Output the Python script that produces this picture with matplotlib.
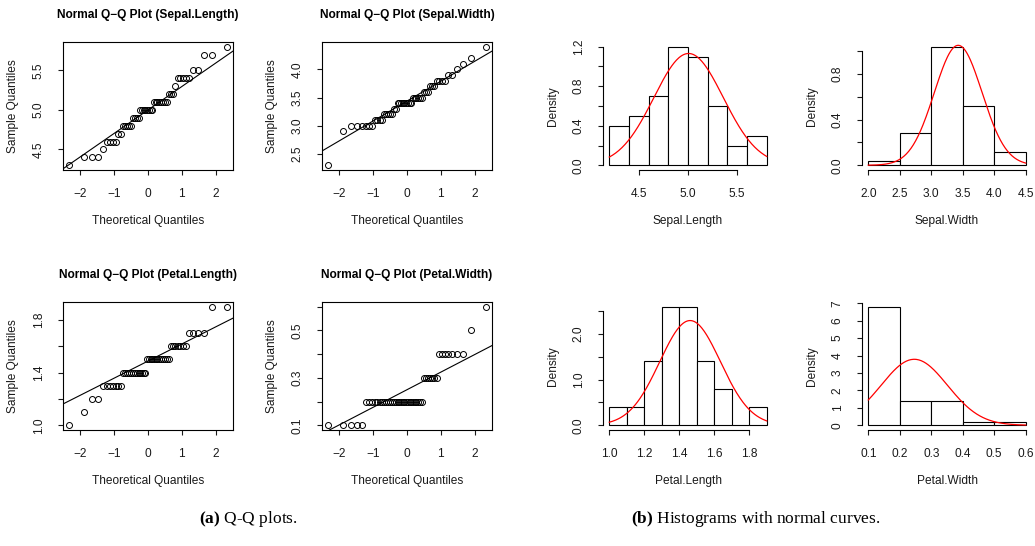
import numpy as np
import matplotlib
matplotlib.use('Agg')
import matplotlib.pyplot as plt
from statistics import NormalDist

# ------------------------------------------------------
# Data: iris setosa measurements (50 flowers)
sepal_length = [5.1, 4.9, 4.7, 4.6, 5.0, 5.4, 4.6, 5.0, 4.4, 4.9, 5.4, 4.8, 4.8, 4.3, 5.8, 5.7, 5.4,
                5.1, 5.7, 5.1, 5.4, 5.1, 4.6, 5.1, 4.8, 5.0, 5.0, 5.2, 5.2, 4.7, 4.8, 5.4, 5.2, 5.5,
                4.9, 5.0, 5.5, 4.9, 4.4, 5.1, 5.0, 4.5, 4.4, 5.0, 5.1, 4.8, 5.1, 4.6, 5.3, 5.0]
sepal_width = [3.5, 3.0, 3.2, 3.1, 3.6, 3.9, 3.4, 3.4, 2.9, 3.1, 3.7, 3.4, 3.0, 3.0, 4.0, 4.4, 3.9,
               3.5, 3.8, 3.8, 3.4, 3.7, 3.6, 3.3, 3.4, 3.0, 3.4, 3.5, 3.4, 3.2, 3.1, 3.4, 4.1, 4.2,
               3.1, 3.2, 3.5, 3.6, 3.0, 3.4, 3.5, 2.3, 3.2, 3.5, 3.8, 3.0, 3.8, 3.2, 3.7, 3.3]
petal_length = [1.4, 1.4, 1.3, 1.5, 1.4, 1.7, 1.4, 1.5, 1.4, 1.5, 1.5, 1.6, 1.4, 1.1, 1.2, 1.5, 1.3,
                1.4, 1.7, 1.5, 1.7, 1.5, 1.0, 1.7, 1.9, 1.6, 1.6, 1.5, 1.4, 1.6, 1.6, 1.5, 1.5, 1.4,
                1.5, 1.2, 1.3, 1.4, 1.3, 1.5, 1.3, 1.3, 1.3, 1.6, 1.9, 1.4, 1.6, 1.4, 1.5, 1.4]
petal_width = [0.2, 0.2, 0.2, 0.2, 0.2, 0.4, 0.3, 0.2, 0.2, 0.1, 0.2, 0.2, 0.1, 0.1, 0.2, 0.4, 0.4,
               0.3, 0.3, 0.3, 0.2, 0.4, 0.2, 0.5, 0.2, 0.2, 0.4, 0.2, 0.2, 0.2, 0.2, 0.4, 0.1, 0.2,
               0.2, 0.2, 0.2, 0.1, 0.2, 0.2, 0.3, 0.3, 0.2, 0.6, 0.4, 0.3, 0.2, 0.2, 0.2, 0.2]

var_names = ['Sepal.Length', 'Sepal.Width', 'Petal.Length', 'Petal.Width']
var_data = [sepal_length, sepal_width, petal_length, petal_width]

# histogram breaks (R's Sturges breaks)
hist_breaks = [[4.2, 4.4, 4.6, 4.8, 5.0, 5.2, 5.4, 5.6, 5.8],
               [2.0, 2.5, 3.0, 3.5, 4.0, 4.5],
               [1.0, 1.1, 1.2, 1.3, 1.4, 1.5, 1.6, 1.7, 1.8, 1.9],
               [0.1, 0.2, 0.3, 0.4, 0.5, 0.6]]

# axis ticks / labels (R skips labels that would overlap)
qq_yticks = [[4.5, 5.0, 5.5], [2.5, 3.0, 3.5, 4.0],
             [1.0, 1.2, 1.4, 1.6, 1.8], [0.1, 0.2, 0.3, 0.4, 0.5, 0.6]]
qq_ylabels = [['4.5', '5.0', '5.5'], ['2.5', '3.0', '3.5', '4.0'],
              ['1.0', '', '1.4', '', '1.8'], ['0.1', '', '0.3', '', '0.5', '']]
hist_xticks = [[4.5, 5.0, 5.5], [2.0, 2.5, 3.0, 3.5, 4.0, 4.5],
               [1.0, 1.2, 1.4, 1.6, 1.8], [0.1, 0.2, 0.3, 0.4, 0.5, 0.6]]
hist_yticks = [[0.0, 0.2, 0.4, 0.6, 0.8, 1.0, 1.2], [0.0, 0.2, 0.4, 0.6, 0.8, 1.0],
               [0.0, 0.5, 1.0, 1.5, 2.0, 2.5], [0, 1, 2, 3, 4, 5, 6, 7]]
hist_ylabels = [['0.0', '', '0.4', '', '0.8', '', '1.2'], ['0.0', '', '0.4', '', '0.8', ''],
                ['0.0', '', '1.0', '', '2.0', ''], ['0', '1', '2', '3', '4', '5', '6', '7']]
# ------------------------------------------------------

plt.rcParams['font.family'] = ['Liberation Sans', 'DejaVu Sans']
plt.rcParams['axes.unicode_minus'] = True
plt.rcParams['mathtext.fontset'] = 'custom'
plt.rcParams['mathtext.rm'] = 'Liberation Serif'
plt.rcParams['mathtext.bf'] = 'Liberation Serif:bold'
TXT = '#1a1a1a'
FS = 8.6

W, H = 1035, 546
fig = plt.figure(figsize=(W / 100, H / 100), dpi=100)

col_left = [63, 322, 603, 862]
row_top = [42, 302]
pw, ph = 170, 128


def make_axes(col, row):
    l, t = col_left[col], row_top[row]
    return fig.add_axes([l / W, (H - t - ph) / H, pw / W, ph / H])


def expand(lo, hi):
    d = (hi - lo) * 0.04
    return lo - d, hi + d


def style_ticks(ax):
    ax.tick_params(direction='out', length=3.6, width=0.8, colors=TXT,
                   labelsize=FS, pad=9.5)
    for lab in ax.get_yticklabels():
        lab.set_rotation(90)
        lab.set_va('center')


def set_labels(ax, xl, yl):
    ax.set_xlabel(xl, fontsize=FS, color=TXT)
    ax.set_ylabel(yl, fontsize=FS, color=TXT)
    ax.xaxis.set_label_coords(0.5, -51 / ph)
    ax.xaxis.label.set_va('center')
    ax.yaxis.set_label_coords(-50 / pw, 0.5)
    ax.yaxis.label.set_va('center')


nd = NormalDist()

# ------------------------------------------------------
# Q-Q plots (left block)
for k in range(4):
    ax = make_axes(k % 2, k // 2)
    y = np.sort(np.array(var_data[k]))
    n = len(y)
    p = (np.arange(1, n + 1) - 0.5) / n
    x = np.array([nd.inv_cdf(v) for v in p])
    ax.plot(x, y, linestyle='none', marker='o', markersize=4.3,
            markerfacecolor='none', markeredgecolor='black', markeredgewidth=0.7)
    # qqline through the 1st and 3rd quartiles
    q1, q3 = np.percentile(y, [25, 75])
    x1, x3 = nd.inv_cdf(0.25), nd.inv_cdf(0.75)
    slope = (q3 - q1) / (x3 - x1)
    ax.axline((x1, q1), slope=slope, color='black', lw=0.8)
    ax.set_xlim(*expand(x.min(), x.max()))
    ax.set_ylim(*expand(y.min(), y.max()))
    ax.set_xticks([-2, -1, 0, 1, 2])
    ax.set_yticks(qq_yticks[k])
    ax.set_yticklabels(qq_ylabels[k])
    for s in ax.spines.values():
        s.set_linewidth(0.8)
    style_ticks(ax)
    set_labels(ax, 'Theoretical Quantiles', 'Sample Quantiles')
    ax.text(0.5, 1 + 27 / ph, 'Normal Q\u2212Q Plot (%s)' % var_names[k], transform=ax.transAxes,
            ha='center', va='center', fontsize=FS, fontweight='bold', color='black')

# ------------------------------------------------------
# Histograms with normal curves (right block)
for k in range(4):
    ax = make_axes(2 + k % 2, k // 2)
    vals = np.array(var_data[k])
    br = np.array(hist_breaks[k])
    # right-closed bins, lowest edge included (as R's hist)
    idx = np.searchsorted(np.round(br * 10), np.round(vals * 10), side='left')
    idx = np.clip(idx - 1, 0, len(br) - 2)
    counts = np.bincount(idx, minlength=len(br) - 1)
    dens = counts / (len(vals) * np.diff(br))
    ax.bar(br[:-1], dens, width=np.diff(br), align='edge', facecolor='white',
           edgecolor='black', linewidth=0.8)
    mu, sd = vals.mean(), vals.std(ddof=1)
    xs = np.linspace(br[0], br[-1], 200)
    ax.plot(xs, [NormalDist(mu, sd).pdf(v) for v in xs], color='red', lw=0.9)
    ax.set_xlim(*expand(br[0], br[-1]))
    ax.set_ylim(*expand(0, dens.max()))
    ax.set_xticks(hist_xticks[k])
    ax.set_yticks(hist_yticks[k])
    ax.set_yticklabels(hist_ylabels[k])
    ax.spines['top'].set_visible(False)
    ax.spines['right'].set_visible(False)
    ax.spines['bottom'].set_bounds(hist_xticks[k][0], hist_xticks[k][-1])
    ax.spines['left'].set_bounds(hist_yticks[k][0], hist_yticks[k][-1])
    ax.spines['bottom'].set_linewidth(0.8)
    ax.spines['left'].set_linewidth(0.8)
    style_ticks(ax)
    set_labels(ax, var_names[k], 'Density')

# ------------------------------------------------------
# Sub-captions
cap_y = (H - 519) / H
fig.text(248 / W, cap_y, r'$\mathbf{(a)}$ Q-Q plots.', ha='center', va='center',
         fontsize=12.5, family='Liberation Serif')
fig.text(756 / W, cap_y, r'$\mathbf{(b)}$ Histograms with normal curves.', ha='center', va='center',
         fontsize=12.5, family='Liberation Serif')

fig.savefig('out.png', dpi=100)
